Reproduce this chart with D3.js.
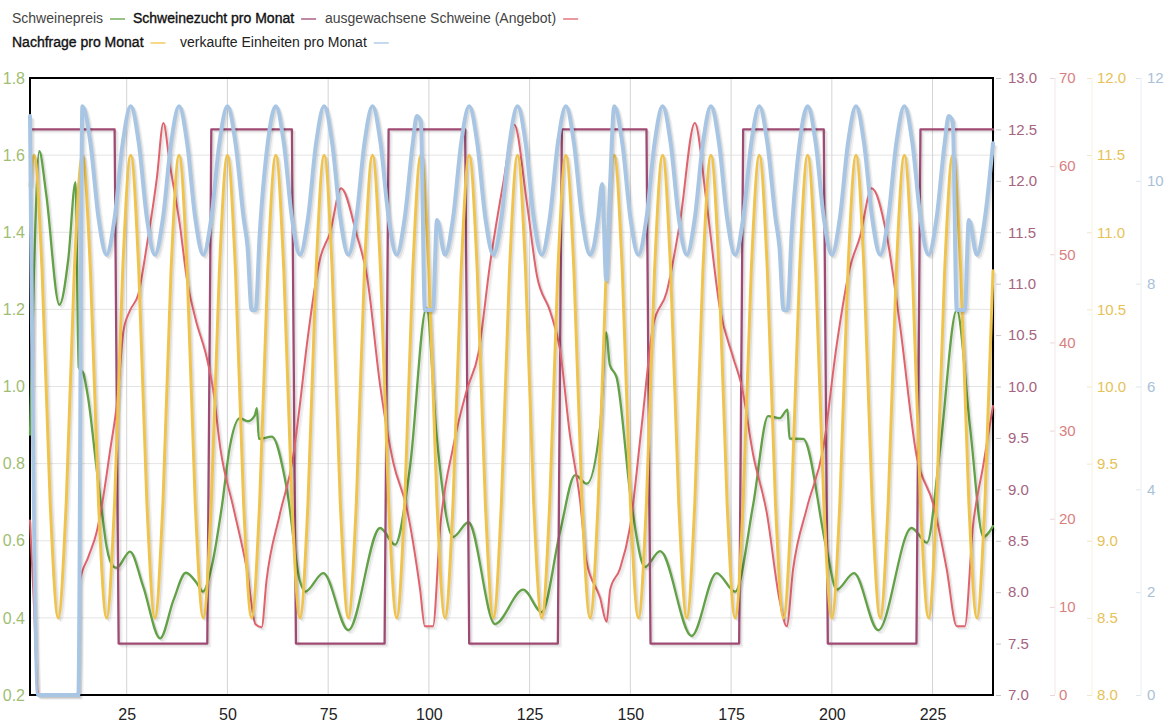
<!DOCTYPE html>
<html>
<head>
<meta charset="utf-8">
<script src="https://cdn.jsdelivr.net/npm/d3@7"></script>
<style>
  body { margin: 0; background: #fff; }
  text { font-family: Arial, "Liberation Sans", sans-serif; }
</style>
</head>
<body>
<script>
// Monate (x-Achse)
const monatTicks = [25, 50, 75, 100, 125, 150, 175, 200, 225];

// Achsenbeschriftungen
const preisTicks = [0.2, 0.4, 0.6, 0.8, 1.0, 1.2, 1.4, 1.6, 1.8];
const zuchtTicks = [7.0, 7.5, 8.0, 8.5, 9.0, 9.5, 10.0, 10.5, 11.0, 11.5, 12.0, 12.5, 13.0];
const angebotTicks = [0, 10, 20, 30, 40, 50, 60, 70];
const nachfrageTicks = [8.0, 8.5, 9.0, 9.5, 10.0, 10.5, 11.0, 11.5, 12.0];
const verkauftTicks = [0, 2, 4, 6, 8, 10, 12];

// Schweinepreis [Monat, Wert]
const preis = [
  [1, 0.875], [2, 1.3], [3.3, 1.61], [5, 1.5], [8.3, 1.212], [10.5, 1.33], [12.3, 1.53], [13.1, 1.05],
  [14.2, 1.035], [15.5, 0.965], [17.5, 0.79], [18.8, 0.68], [20, 0.585], [21.7, 0.533], [22.5, 0.53],
  [25.8, 0.572], [29.1, 0.481], [33.3, 0.347], [36.6, 0.446], [39.7, 0.517], [42.4, 0.49], [43.9, 0.468],
  [46.1, 0.533], [48.6, 0.688], [50.6, 0.844], [53.1, 0.918], [55.1, 0.91], [56.8, 0.925], [57.3, 0.944],
  [57.8, 0.864], [61, 0.87], [64.7, 0.737], [68, 0.495], [69.3, 0.468], [73.8, 0.516], [80, 0.368],
  [87.9, 0.633], [91.6, 0.59], [95.3, 0.79], [99.4, 1.204], [101.9, 0.875], [106, 0.61], [109.8, 0.648],
  [116.4, 0.384], [123.4, 0.473], [128, 0.415], [132.5, 0.62], [136.3, 0.77], [139.2, 0.748], [142.5, 0.896],
  [144, 1.14], [144.9, 1.056], [146.6, 1.023], [150.3, 0.695], [153.6, 0.532], [157.4, 0.573], [165.2, 0.353],
  [171.4, 0.516], [176, 0.468], [180.5, 0.695], [184.2, 0.923], [187.1, 0.918], [189, 0.94], [189.5, 0.865],
  [192.9, 0.864], [198.7, 0.578], [201.2, 0.473], [205.5, 0.516], [211.5, 0.368], [219.8, 0.633],
  [223.6, 0.595], [226.9, 0.84], [231, 1.198], [234.3, 0.896], [237.6, 0.61], [240, 0.638]
];

// Schweinezucht pro Monat
const zucht = [
  [1, 12.5], [22, 12.5], [23, 7.5], [45, 7.5], [46, 12.5], [66, 12.5], [67, 7.5], [89, 7.5],
  [90, 12.5], [109, 12.5], [110, 7.5], [132, 7.5], [133, 12.5], [154, 12.5], [155, 7.5], [177, 7.5],
  [178, 12.5], [198, 12.5], [199, 7.5], [221, 7.5], [222, 12.5], [240, 12.5]
];

// ausgewachsene Schweine (Angebot)
const angebot = [
  [1, 19.8], [2, 10], [3, 0], [13, 0], [13.3, 12.7], [15.5, 15.7], [17.5, 18.4], [18.8, 21.4], [20.9, 27.8],
  [22.7, 33.5], [24.2, 41.3], [25.8, 43.6], [27.9, 45.5], [30, 51], [32.5, 58.7], [34.1, 64.9], [35.7, 60.2],
  [38.2, 53.3], [39.9, 47.3], [42, 42.8], [44.9, 38.2], [46.5, 34.5], [48.2, 28.1], [51.5, 21.2], [54.8, 14.3],
  [57, 8], [58.5, 7.7], [59.7, 13], [63, 20.5], [66.3, 27], [68, 33], [69.7, 39.7], [73, 49.5], [75.5, 52.5],
  [78.2, 57.5], [82.1, 52.2], [84.6, 47.6], [87.9, 35.1], [91.2, 26.3], [94.5, 21.2], [97.8, 12], [99, 7.8],
  [101, 7.8], [102.8, 19], [106, 28.1], [109.4, 34.6], [112.3, 38.8], [115.2, 49], [118.5, 58.2], [121.2, 64.7],
  [124.3, 55.9], [126.8, 47.6], [130.1, 43.5], [132.5, 39.3], [135, 29.5], [137.5, 22.1], [139.1, 15.2],
  [142.5, 11], [144.1, 8.3], [145, 12], [147.4, 14.3], [149.9, 19], [152.8, 30.5], [155.7, 42], [159, 45.7],
  [162.3, 53.6], [166, 64.9], [168.9, 55.9], [172.2, 43.9], [175.5, 38.3], [177.6, 35.1], [180.5, 27.2],
  [183.8, 20.8], [187.1, 10.6], [188.8, 7.8], [190.4, 14.3], [193.8, 21.2], [197.9, 28.1], [201.2, 39.7],
  [204.5, 48.5], [207, 52], [209.9, 57.5], [213.6, 52.2], [216.9, 42], [221, 27.2], [225.2, 21.6],
  [228.5, 14.3], [231, 7.8], [233, 7.8], [235, 19], [237.6, 26.1], [240, 32.8]
];

// Nachfrage pro Monat
const nachfrage = [
  [1, 11.3], [2, 11.5], [4, 10.75], [6, 9.25], [8, 8.5], [10, 9.25], [12, 10.75],
  [14, 11.5], [16, 10.75], [18, 9.25], [20, 8.5], [22, 9.25], [24, 10.75],
  [26, 11.5], [28, 10.75], [30, 9.25], [32, 8.5], [34, 9.25], [36, 10.75],
  [38, 11.5], [40, 10.75], [42, 9.25], [44, 8.5], [46, 9.25], [48, 10.75],
  [50, 11.5], [52, 10.75], [54, 9.25], [56, 8.5], [58, 9.25], [60, 10.75],
  [62, 11.5], [64, 10.75], [66, 9.25], [68, 8.5], [70, 9.25], [72, 10.75],
  [74, 11.5], [76, 10.75], [78, 9.25], [80, 8.5], [82, 9.25], [84, 10.75],
  [86, 11.5], [88, 10.75], [90, 9.25], [92, 8.5], [94, 9.25], [96, 10.75],
  [98, 11.5], [100, 10.75], [102, 9.25], [104, 8.5], [106, 9.25], [108, 10.75],
  [110, 11.5], [112, 10.75], [114, 9.25], [116, 8.5], [118, 9.25], [120, 10.75],
  [122, 11.5], [124, 10.75], [126, 9.25], [128, 8.5], [130, 9.25], [132, 10.75],
  [134, 11.5], [136, 10.75], [138, 9.25], [140, 8.5], [142, 9.25], [144, 10.75],
  [146, 11.5], [148, 10.75], [150, 9.25], [152, 8.5], [154, 9.25], [156, 10.75],
  [158, 11.5], [160, 10.75], [162, 9.25], [164, 8.5], [166, 9.25], [168, 10.75],
  [170, 11.5], [172, 10.75], [174, 9.25], [176, 8.5], [178, 9.25], [180, 10.75],
  [182, 11.5], [184, 10.75], [186, 9.25], [188, 8.5], [190, 9.25], [192, 10.75],
  [194, 11.5], [196, 10.75], [198, 9.25], [200, 8.5], [202, 9.25], [204, 10.75],
  [206, 11.5], [208, 10.75], [210, 9.25], [212, 8.5], [214, 9.25], [216, 10.75],
  [218, 11.5], [220, 10.75], [222, 9.25], [224, 8.5], [226, 9.25], [228, 10.75],
  [230, 11.5], [232, 10.75], [234, 9.25], [236, 8.5], [238, 9.25], [240, 10.75]
];

// verkaufte Einheiten pro Monat
const verkauft = [
  [1, 11.26], [3, 0], [13, 0], [14, 11.45], [16, 10.73], [18, 9.28], [20, 8.56], [22, 9.28], [24, 10.73],
  [26, 11.45], [28, 10.73], [30, 9.28], [32, 8.56], [34, 9.28], [36, 10.73],
  [38, 11.45], [40, 10.73], [42, 9.28], [44, 8.56], [46, 9.28], [48, 10.73],
  [50, 11.45], [52, 10.73], [54, 9.28], [55, 8.7], [56, 7.49], [57, 7.49], [58, 8.95], [60, 10.73],
  [62, 11.45], [64, 10.73], [66, 9.28], [68, 8.56], [70, 9.28], [72, 10.73],
  [74, 11.45], [76, 10.73], [78, 9.28], [80, 8.56], [82, 9.28], [84, 10.73],
  [86, 11.45], [88, 10.73], [90, 9.28], [92, 8.56], [94, 9.28], [96, 10.73],
  [97, 11.26], [98, 11.15], [99, 7.49], [101, 7.49], [102, 9.24], [104, 8.56], [106, 9.28], [108, 10.73],
  [110, 11.45], [112, 10.73], [114, 9.28], [116, 8.56], [118, 9.28], [120, 10.73],
  [122, 11.45], [124, 10.73], [126, 9.28], [128, 8.56], [130, 9.28], [132, 10.73],
  [134, 11.45], [136, 10.73], [138, 9.28], [140, 8.56], [141, 8.75], [142, 9.28], [143, 9.94], [144, 8.07], [145, 10.0],
  [146, 11.45], [148, 10.73], [150, 9.28], [152, 8.56], [154, 9.28], [156, 10.73],
  [158, 11.45], [160, 10.73], [162, 9.28], [164, 8.56], [166, 9.28], [168, 10.73],
  [170, 11.45], [172, 10.73], [174, 9.28], [176, 8.56], [178, 9.28], [180, 10.73],
  [182, 11.45], [184, 10.73], [186, 9.28], [187, 8.7], [188, 7.49], [189, 7.49], [190, 8.95], [192, 10.73],
  [194, 11.45], [196, 10.73], [198, 9.28], [200, 8.56], [202, 9.28], [204, 10.73],
  [206, 11.45], [208, 10.73], [210, 9.28], [212, 8.56], [214, 9.28], [216, 10.73],
  [218, 11.45], [220, 10.73], [222, 9.28], [224, 8.56], [226, 9.28], [228, 10.73],
  [229, 11.26], [230, 11.15], [231, 7.49], [233, 7.49], [234, 9.24], [236, 8.56], [238, 9.28], [240, 10.73]
];

const width = 1174, height = 726;
const plot = { left: 30, right: 993, top: 78, bottom: 695 };

const svg = d3.select('body')
  .append('svg')
  .attr('width', width)
  .attr('height', height)
  .style('background', '#fff');

// scales, one per y axis
const x = d3.scaleLinear().domain([1, 240]).range([plot.left, plot.right]);
const yPreis = d3.scaleLinear().domain([0.2, 1.8]).range([plot.bottom, plot.top]);
const yZucht = d3.scaleLinear().domain([7, 13]).range([plot.bottom, plot.top]);
const yAngebot = d3.scaleLinear().domain([0, 70]).range([plot.bottom, plot.top]);
const yNachfrage = d3.scaleLinear().domain([8, 12]).range([plot.bottom, plot.top]);
const yVerkauft = d3.scaleLinear().domain([0, 12]).range([plot.bottom, plot.top]);

// grid
svg.append('g')
  .selectAll('line')
  .data(preisTicks.slice(1, -1))
  .join('line')
  .attr('x1', plot.left).attr('x2', plot.right)
  .attr('y1', d => yPreis(d)).attr('y2', d => yPreis(d))
  .attr('stroke', '#e4e4e4');

svg.append('g')
  .selectAll('line')
  .data(monatTicks)
  .join('line')
  .attr('x1', d => x(d)).attr('x2', d => x(d))
  .attr('y1', plot.top).attr('y2', plot.bottom)
  .attr('stroke', '#d4d4d4');

// frame
svg.append('rect')
  .attr('x', plot.left).attr('y', plot.top)
  .attr('width', plot.right - plot.left)
  .attr('height', plot.bottom - plot.top)
  .attr('fill', 'none')
  .attr('stroke', '#000')
  .attr('stroke-width', 2);

const series = [
  { name: 'Schweinepreis', data: preis, y: yPreis, color: '#62a146', w: 2.3, curve: d3.curveMonotoneX },
  { name: 'Schweinezucht pro Monat', data: zucht, y: yZucht, color: '#9e4a72', w: 2.3, curve: d3.curveLinear },
  { name: 'ausgewachsene Schweine (Angebot)', data: angebot, y: yAngebot, color: '#e0626c', w: 2, curve: d3.curveMonotoneX },
  { name: 'Nachfrage pro Monat', data: nachfrage, y: yNachfrage, color: '#efc34c', w: 3, curve: d3.curveMonotoneX },
  { name: 'verkaufte Einheiten pro Monat', data: verkauft, y: yVerkauft, color: '#a8c6e3', w: 4, curve: d3.curveMonotoneX }
];

series.forEach(s => {
  const line = d3.line()
    .x(d => x(d[0]))
    .y(d => s.y(d[1]))
    .curve(s.curve);
  // soft shadow like the original
  [[3, 0.05], [1.5, 0.09]].forEach(([off, a]) => {
    svg.append('path')
      .datum(s.data)
      .attr('d', line)
      .attr('transform', `translate(${off}, ${off})`)
      .attr('fill', 'none')
      .attr('stroke', `rgba(0,0,0,${a})`)
      .attr('stroke-width', s.w)
      .attr('stroke-linejoin', 'round');
  });
  svg.append('path')
    .datum(s.data)
    .attr('d', line)
    .attr('fill', 'none')
    .attr('stroke', s.color)
    .attr('stroke-width', s.w)
    .attr('stroke-linejoin', 'round')
    .attr('stroke-linecap', 'round');
});

// x axis
const xaxis = svg.append('g')
  .attr('transform', `translate(0, ${plot.bottom})`)
  .call(d3.axisBottom(x).tickValues(monatTicks).tickSize(0).tickPadding(14));
xaxis.select('.domain').remove();
xaxis.selectAll('text').attr('fill', '#222').style('font-size', '16px');

// left axis (Schweinepreis)
const yaxisL = svg.append('g')
  .attr('transform', `translate(${plot.left}, 0)`)
  .call(d3.axisLeft(yPreis).tickValues(preisTicks).tickFormat(d3.format('.1f')).tickSize(0).tickPadding(5));
yaxisL.select('.domain').remove();
yaxisL.selectAll('text').attr('fill', '#9fbe72').style('font-size', '16px');

// right axes
const rightAxes = [
  { scale: yZucht, ticks: zuchtTicks, fmt: '.1f', x: 996, pad: 7, color: '#a5647f', tick: '#cfc6ca', line: null },
  { scale: yAngebot, ticks: angebotTicks, fmt: 'd', x: 1050, pad: 4, color: '#d9807f', tick: '#ead6d6', line: '#f4e6e6' },
  { scale: yNachfrage, ticks: nachfrageTicks, fmt: '.1f', x: 1087, pad: 5, color: '#e6c257', tick: '#efe6c8', line: '#f7f1de' },
  { scale: yVerkauft, ticks: verkauftTicks, fmt: 'd', x: 1136, pad: 6, color: '#a9c1d9', tick: '#dde5ee', line: '#eaf0f6' }
];

rightAxes.forEach(a => {
  const g = svg.append('g')
    .attr('transform', `translate(${a.x}, 0)`)
    .call(d3.axisRight(a.scale).tickValues(a.ticks).tickFormat(d3.format(a.fmt)).tickSize(5).tickPadding(a.pad));
  g.select('.domain').remove();
  g.selectAll('.tick line').attr('stroke', a.tick);
  g.selectAll('text').attr('fill', a.color).style('font-size', '15px');
  if (a.line) {
    g.append('line')
      .attr('x1', 5).attr('x2', 5)
      .attr('y1', plot.top).attr('y2', plot.bottom)
      .attr('stroke', a.line);
  }
});

// legend
const legendRows = [
  { y: 18, items: [[0, 12, '#444'], [1, 133, '#111'], [2, 325, '#444']] },
  { y: 42, items: [[3, 12, '#111'], [4, 180, '#222']] }
];
legendRows.forEach(row => {
  row.items.forEach(([i, lx, fill]) => {
    const s = series[i];
    const t = svg.append('text')
      .attr('x', lx)
      .attr('y', row.y)
      .attr('dy', '0.35em')
      .attr('fill', fill)
      .style('font-size', '14px')
      .text(s.name);
    if (fill === '#111') t.attr('stroke', fill).attr('stroke-width', 0.35);
    const tw = t.node().getComputedTextLength();
    svg.append('line')
      .attr('x1', lx + tw + 7).attr('x2', lx + tw + 22)
      .attr('y1', row.y + 1).attr('y2', row.y + 1)
      .attr('stroke', s.color)
      .attr('stroke-opacity', 0.65)
      .attr('stroke-width', 2);
  });
});
</script>
</body>
</html>
